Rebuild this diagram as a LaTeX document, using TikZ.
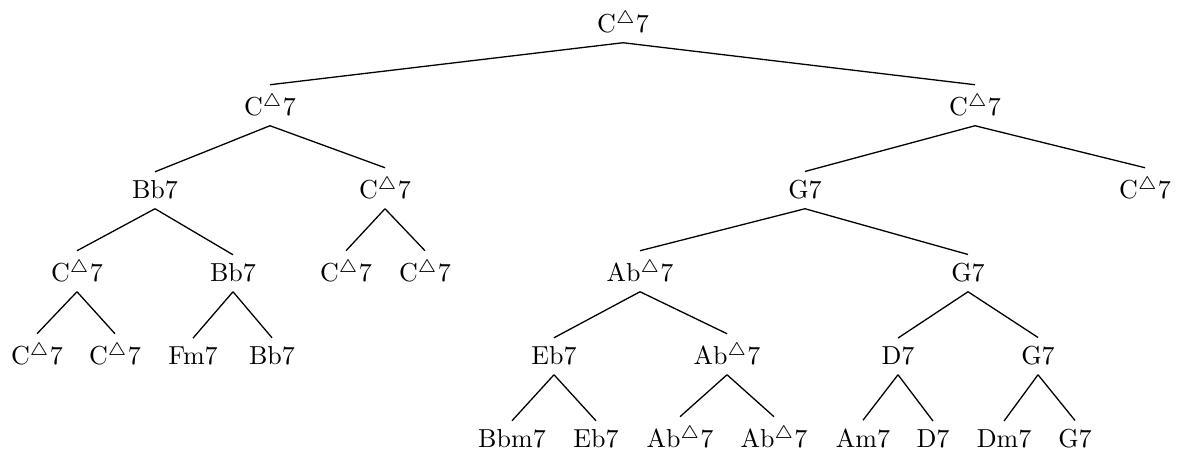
\documentclass[tikz,border=0pt]{standalone}
\newcommand{\mj}{$^{\triangle}$}
\begin{document}
\begin{tikzpicture}[x=0.3846pt,y=-0.3846pt,
  chord/.style={anchor=base,inner sep=3.33pt},
  edge/.style={draw,line width=0.5pt}]
\useasboundingbox (0,0) rectangle (1181,457);
% level 0
\node[chord] (r) at (623,33) {C\mj7};
% level 1
\node[chord] (a) at (270,116) {C\mj7};
\node[chord] (b) at (975,116) {C\mj7};
% level 2
\node[chord] (aa) at (155,199) {Bb7};
\node[chord] (ab) at (385,199) {C\mj7};
\node[chord] (ba) at (805,199) {G7};
\node[chord] (bb) at (1145,199) {C\mj7};
% level 3
\node[chord] (aaa) at (77,282) {C\mj7};
\node[chord] (aab) at (233,282) {Bb7};
\node[chord] (aba) at (346,282) {C\mj7};
\node[chord] (abb) at (425,282) {C\mj7};
\node[chord] (baa) at (640,282) {Ab\mj7};
\node[chord] (bab) at (968,282) {G7};
% level 4
\node[chord] (aaaa) at (37,365) {C\mj7};
\node[chord] (aaab) at (115,365) {C\mj7};
\node[chord] (aaba) at (193,365) {Fm7};
\node[chord] (aabb) at (272,365) {Bb7};
\node[chord] (baaa) at (554,365) {Eb7};
\node[chord] (baab) at (727,365) {Ab\mj7};
\node[chord] (baba) at (898,365) {D7};
\node[chord] (babb) at (1038,365) {G7};
% level 5
\node[chord] (baaaa) at (512,448) {Bbm7};
\node[chord] (baaab) at (596,448) {Eb7};
\node[chord] (baaba) at (680,448) {Ab\mj7};
\node[chord] (baabb) at (774,448) {Ab\mj7};
\node[chord] (babaa) at (863,448) {Am7};
\node[chord] (babab) at (933,448) {D7};
\node[chord] (babba) at (1004,448) {Dm7};
\node[chord] (babbb) at (1075,448) {G7};
% edges
\foreach \p/\c in {r/a,r/b,a/aa,a/ab,b/ba,b/bb,aa/aaa,aa/aab,ab/aba,ab/abb,
  ba/baa,ba/bab,aaa/aaaa,aaa/aaab,aab/aaba,aab/aabb,baa/baaa,baa/baab,
  bab/baba,bab/babb,baaa/baaaa,baaa/baaab,baab/baaba,baab/baabb,
  baba/babaa,baba/babab,babb/babba,babb/babbb}
  \path[edge] (\p.south) -- (\c.north);
\end{tikzpicture}
\end{document}
